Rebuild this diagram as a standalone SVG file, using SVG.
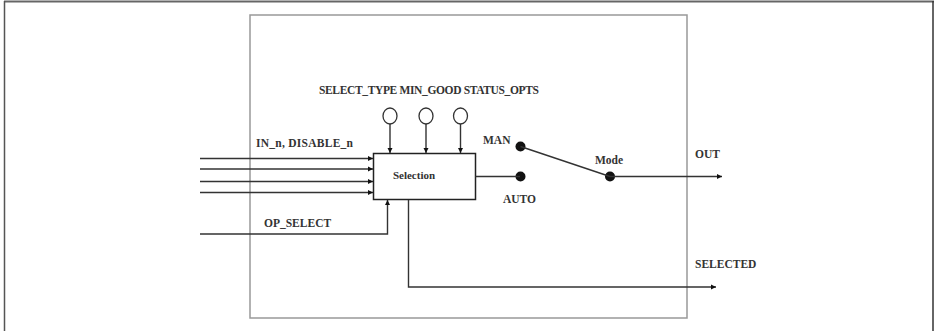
<svg xmlns="http://www.w3.org/2000/svg" width="934" height="331" viewBox="0 0 934 331">
<style>
text{font-family:"Liberation Serif","Times New Roman",serif;font-weight:bold;font-size:11.5px;fill:#333}
.ln{stroke:#333;stroke-width:1.4;fill:none}
.box{stroke:#999;stroke-width:1.5;fill:none}
.dot{fill:#111}
</style>
<defs>
<marker id="ar" markerWidth="6" markerHeight="6" refX="5" refY="3" orient="auto" markerUnits="userSpaceOnUse">
<path d="M0,0.5 L5,3 L0,5.5 z" fill="#111"/>
</marker>
</defs>
<rect width="934" height="331" fill="#fff"/>
<g id="frame">
<line x1="4" y1="1.5" x2="934" y2="1.5" stroke="#666" stroke-width="2"/>
<line x1="4.5" y1="1" x2="4.5" y2="331" stroke="#555" stroke-width="1.5"/>
<line x1="933" y1="1" x2="933" y2="331" stroke="#333" stroke-width="1.5"/>
</g>
<g id="block">
<rect class="box" x="250" y="15" width="437" height="303"/>
</g>
<g id="selection">
<rect x="373.5" y="153.5" width="102" height="46" fill="#fff" stroke="#222" stroke-width="1.5"/>
<text x="414" y="179" text-anchor="middle" style="font-size:11px">Selection</text>
</g>
<g id="params">
<text x="319" y="94" textLength="220" lengthAdjust="spacing">SELECT_TYPE MIN_GOOD STATUS_OPTS</text>
<ellipse cx="390" cy="116" rx="7" ry="8" fill="#fff" stroke="#333" stroke-width="1.3"/>
<ellipse cx="426" cy="116" rx="7" ry="8" fill="#fff" stroke="#333" stroke-width="1.3"/>
<ellipse cx="460.5" cy="116" rx="7" ry="8" fill="#fff" stroke="#333" stroke-width="1.3"/>
</g>
<g id="switch">
<circle class="dot" cx="520.5" cy="146.5" r="5"/>
<circle class="dot" cx="520.5" cy="176.5" r="5"/>
<circle class="dot" cx="610" cy="176.5" r="5"/>
<text x="483" y="144">MAN</text>
<text x="503" y="203">AUTO</text>
<text x="595" y="164">Mode</text>
</g>
<g id="labels">
<text x="256" y="147" textLength="97" lengthAdjust="spacing">IN_n, DISABLE_n</text>
<text x="264" y="227">OP_SELECT</text>
<text x="695" y="158">OUT</text>
<text x="695" y="268">SELECTED</text>
</g>
<g id="connectors">
<line class="ln" x1="390" y1="124" x2="390" y2="153" marker-end="url(#ar)"/>
<line class="ln" x1="426" y1="124" x2="426" y2="153" marker-end="url(#ar)"/>
<line class="ln" x1="460.5" y1="124" x2="460.5" y2="153" marker-end="url(#ar)"/>
<line class="ln" x1="200" y1="158.5" x2="373" y2="158.5" marker-end="url(#ar)"/>
<line class="ln" x1="200" y1="169" x2="373" y2="169" marker-end="url(#ar)"/>
<line class="ln" x1="200" y1="181.5" x2="373" y2="181.5" marker-end="url(#ar)"/>
<line class="ln" x1="200" y1="192.5" x2="373" y2="192.5" marker-end="url(#ar)"/>
<polyline class="ln" points="200,234 387.5,234 387.5,200" marker-end="url(#ar)" stroke-width="1.1"/>
<polyline class="ln" points="408.5,200 408.5,287 716,287" marker-end="url(#ar)" stroke-width="1.1"/>
<line class="ln" x1="475.5" y1="176.5" x2="520" y2="176.5"/>
<line class="ln" x1="520.5" y1="146.5" x2="610" y2="176.5"/>
<line class="ln" x1="610" y1="176.5" x2="722" y2="176.5" marker-end="url(#ar)"/>
</g>
</svg>
